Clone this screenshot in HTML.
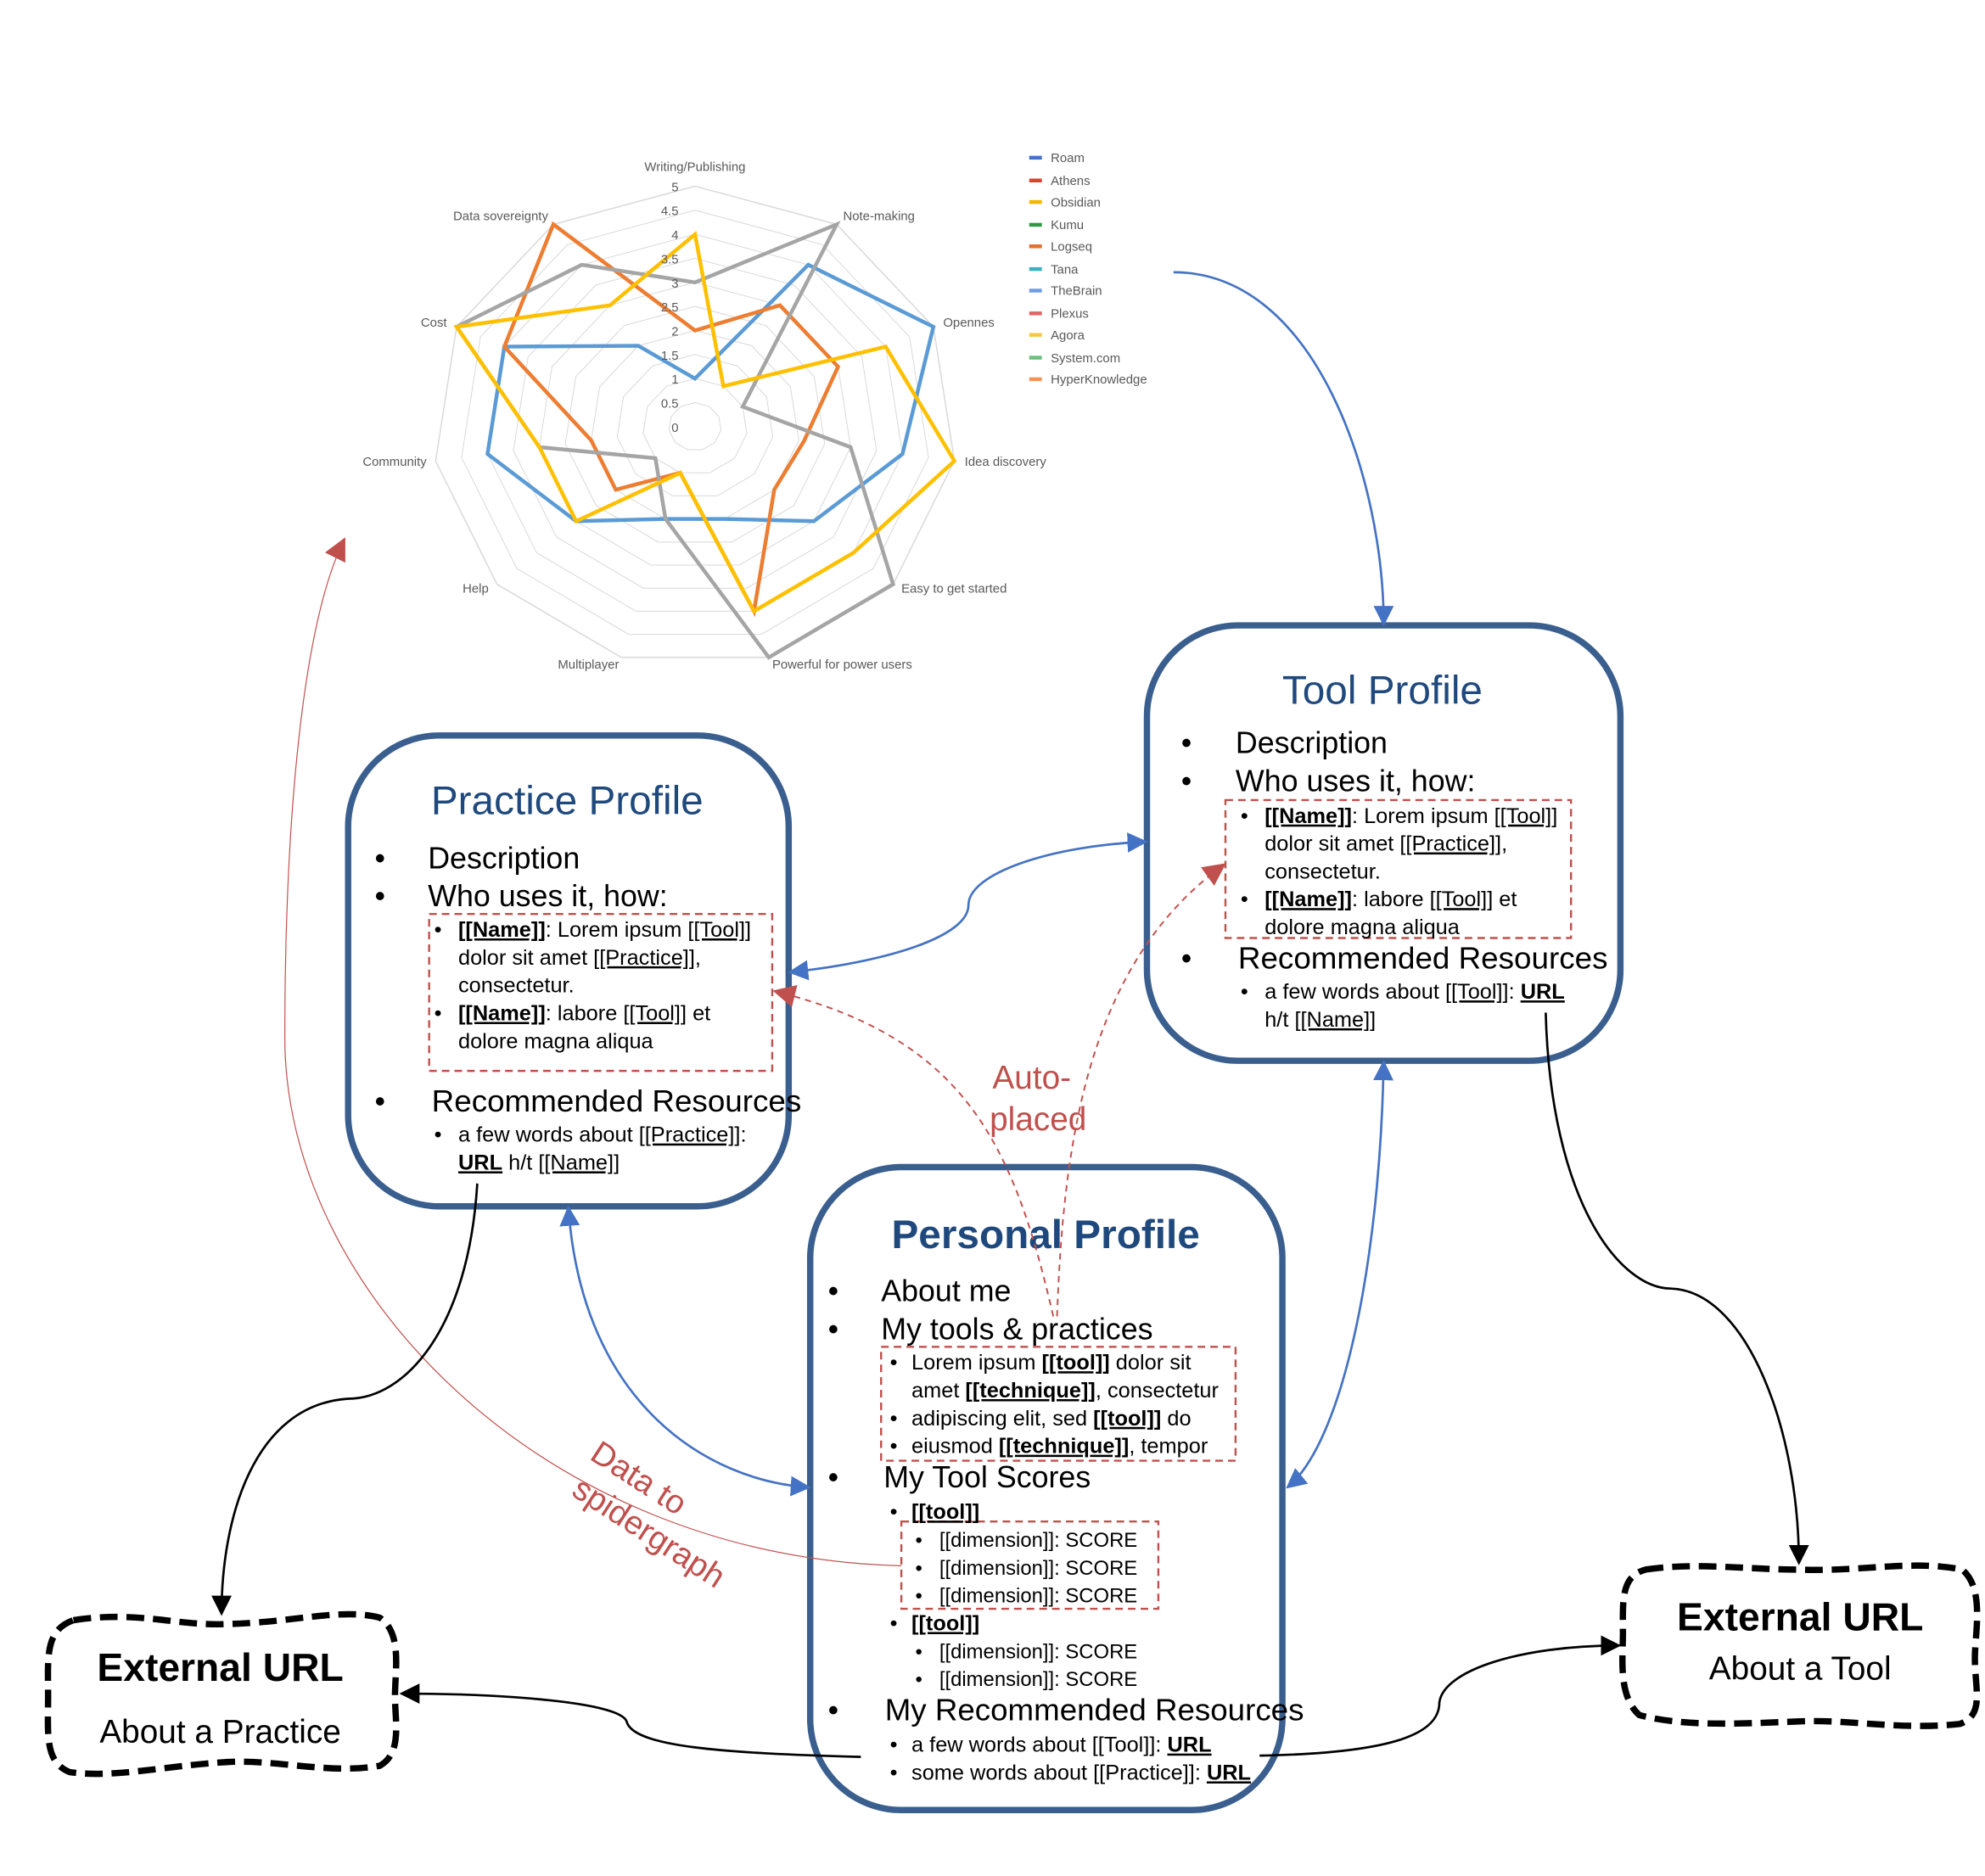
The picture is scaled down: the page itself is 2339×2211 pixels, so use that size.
<!DOCTYPE html>
<html><head><meta charset="utf-8"><style>
html,body{margin:0;padding:0;background:#fff}
svg{display:block}
text{font-family:"Liberation Sans",sans-serif}
.h{font-size:24px;fill:#000}
.s{font-size:17px;fill:#000}
.d{font-size:16px;fill:#000}
.u{text-decoration:underline}
.b{font-weight:bold}
.t{fill:#1f497d;font-size:32px}
.ax{font-size:10px;fill:#595959}
.lg{font-size:10px;fill:#595959}
</style></head><body>
<svg width="2339" height="2211" viewBox="0 0 1568 1482" xmlns="http://www.w3.org/2000/svg">
<defs>
<marker id="abb" viewBox="0 0 10 10" refX="9" refY="5" markerWidth="16" markerHeight="16" orient="auto-start-reverse" markerUnits="userSpaceOnUse"><path d="M0,0L10,5L0,10z" fill="#4472c4"/></marker>
<marker id="ar" viewBox="0 0 10 10" refX="9" refY="5" markerWidth="18" markerHeight="18" orient="auto" markerUnits="userSpaceOnUse"><path d="M0,0L10,5L0,10z" fill="#c0504d"/></marker>
<marker id="ak" viewBox="0 0 10 10" refX="9" refY="5" markerWidth="16" markerHeight="16" orient="auto" markerUnits="userSpaceOnUse"><path d="M0,0L10,5L0,10z" fill="#000"/></marker>
</defs>

<g fill="none" stroke="#d9d9d9" stroke-width="1">
<polygon points="549,147 660.9,177.2 737.3,258.1 753.9,364.1 705.5,461.5 607.3,519.3 490.7,519.3 392.6,461.5 344.1,364.1 360.7,258.1 437.1,177.2"/>
<polygon points="549,147 660.9,177.2 737.3,258.1 753.9,364.1 705.5,461.5 607.3,519.3 490.7,519.3 392.6,461.5 344.1,364.1 360.7,258.1 437.1,177.2" transform="translate(549 337) scale(0.9) translate(-549 -337)" vector-effect="non-scaling-stroke"/>
<polygon points="549,147 660.9,177.2 737.3,258.1 753.9,364.1 705.5,461.5 607.3,519.3 490.7,519.3 392.6,461.5 344.1,364.1 360.7,258.1 437.1,177.2" transform="translate(549 337) scale(0.8) translate(-549 -337)" vector-effect="non-scaling-stroke"/>
<polygon points="549,147 660.9,177.2 737.3,258.1 753.9,364.1 705.5,461.5 607.3,519.3 490.7,519.3 392.6,461.5 344.1,364.1 360.7,258.1 437.1,177.2" transform="translate(549 337) scale(0.7) translate(-549 -337)" vector-effect="non-scaling-stroke"/>
<polygon points="549,147 660.9,177.2 737.3,258.1 753.9,364.1 705.5,461.5 607.3,519.3 490.7,519.3 392.6,461.5 344.1,364.1 360.7,258.1 437.1,177.2" transform="translate(549 337) scale(0.6) translate(-549 -337)" vector-effect="non-scaling-stroke"/>
<polygon points="549,147 660.9,177.2 737.3,258.1 753.9,364.1 705.5,461.5 607.3,519.3 490.7,519.3 392.6,461.5 344.1,364.1 360.7,258.1 437.1,177.2" transform="translate(549 337) scale(0.5) translate(-549 -337)" vector-effect="non-scaling-stroke"/>
<polygon points="549,147 660.9,177.2 737.3,258.1 753.9,364.1 705.5,461.5 607.3,519.3 490.7,519.3 392.6,461.5 344.1,364.1 360.7,258.1 437.1,177.2" transform="translate(549 337) scale(0.4) translate(-549 -337)" vector-effect="non-scaling-stroke"/>
<polygon points="549,147 660.9,177.2 737.3,258.1 753.9,364.1 705.5,461.5 607.3,519.3 490.7,519.3 392.6,461.5 344.1,364.1 360.7,258.1 437.1,177.2" transform="translate(549 337) scale(0.3) translate(-549 -337)" vector-effect="non-scaling-stroke"/>
<polygon points="549,147 660.9,177.2 737.3,258.1 753.9,364.1 705.5,461.5 607.3,519.3 490.7,519.3 392.6,461.5 344.1,364.1 360.7,258.1 437.1,177.2" transform="translate(549 337) scale(0.2) translate(-549 -337)" vector-effect="non-scaling-stroke"/>
<polygon points="549,147 660.9,177.2 737.3,258.1 753.9,364.1 705.5,461.5 607.3,519.3 490.7,519.3 392.6,461.5 344.1,364.1 360.7,258.1 437.1,177.2" transform="translate(549 337) scale(0.1) translate(-549 -337)" vector-effect="non-scaling-stroke"/>
</g>
<g fill="none" stroke-width="3">
<polygon stroke="#5b9bd5" points="549,299 638.5,209.1 737.3,258.1 712.9,358.6 642.9,411.7 572.3,409.9 525.7,409.9 455.1,411.7 385.1,358.6 398.4,273.8 504.2,273.1"/>
<polygon stroke="#ed7d31" points="549,261 616.1,241.1 662,289.6 635.1,348.4 611.6,386.8 595.6,482.8 537.3,373.5 486.4,386.8 467,347.8 398.4,273.8 437.1,177.2"/>
<polygon stroke="#a5a5a5" points="549,223 660.9,177.2 586.7,321.2 671.9,353.2 705.5,461.5 607.3,519.3 525.7,409.9 517.7,361.9 426.1,353.2 360.7,258.1 459.5,209.1"/>
<polygon stroke="#ffc000" points="549,185 571.4,305 699.6,273.8 753.9,364.1 674.2,436.6 595.6,482.8 537.3,373.5 455.1,411.7 426.1,353.2 360.7,258.1 481.9,241.1"/>
</g>
<g class="ax" text-anchor="end">
<text x="536" y="151">5</text><text x="536" y="170">4.5</text><text x="536" y="189">4</text><text x="536" y="208">3.5</text><text x="536" y="227">3</text><text x="536" y="246">2.5</text><text x="536" y="265">2</text><text x="536" y="284">1.5</text><text x="536" y="303">1</text><text x="536" y="322">0.5</text><text x="536" y="341">0</text>
</g>
<g class="ax">
<text x="549" y="135" text-anchor="middle">Writing/Publishing</text>
<text x="666" y="174">Note-making</text>
<text x="745" y="258">Opennes</text>
<text x="762" y="368">Idea discovery</text>
<text x="712" y="468">Easy to get started</text>
<text x="610" y="528">Powerful for power users</text>
<text x="489" y="528" text-anchor="end">Multiplayer</text>
<text x="386" y="468" text-anchor="end">Help</text>
<text x="337" y="368" text-anchor="end">Community</text>
<text x="353" y="258" text-anchor="end">Cost</text>
<text x="433" y="174" text-anchor="end">Data sovereignty</text>
</g>
<g class="lg">
<rect x="813" y="123" width="10" height="3" fill="#4472c4"/><text x="830" y="128">Roam</text>
<rect x="813" y="141" width="10" height="3" fill="#d9412f"/><text x="830" y="146">Athens</text>
<rect x="813" y="158" width="10" height="3" fill="#f2b800"/><text x="830" y="163">Obsidian</text>
<rect x="813" y="176" width="10" height="3" fill="#2e9a44"/><text x="830" y="181">Kumu</text>
<rect x="813" y="193" width="10" height="3" fill="#e4702b"/><text x="830" y="198">Logseq</text>
<rect x="813" y="211" width="10" height="3" fill="#3fb0c0"/><text x="830" y="216">Tana</text>
<rect x="813" y="228" width="10" height="3" fill="#6f9ce8"/><text x="830" y="233">TheBrain</text>
<rect x="813" y="246" width="10" height="3" fill="#e06666"/><text x="830" y="251">Plexus</text>
<rect x="813" y="263" width="10" height="3" fill="#f5c842"/><text x="830" y="268">Agora</text>
<rect x="813" y="281" width="10" height="3" fill="#6cc080"/><text x="830" y="286">System.com</text>
<rect x="813" y="298" width="10" height="3" fill="#f0955a"/><text x="830" y="303">HyperKnowledge</text>
</g>

<g fill="none" stroke="#3a5f8f" stroke-width="5">
<rect x="906" y="494" width="374" height="344" rx="72"/>
<rect x="275" y="581" width="348" height="372" rx="72"/>
<rect x="640" y="922" width="373" height="508" rx="72"/>
</g>
<g fill="none" stroke="#c0504d" stroke-width="1.6" stroke-dasharray="6,4">
<rect x="968" y="632" width="273" height="109"/>
<rect x="339" y="722" width="271" height="124"/>
<rect x="696" y="1064" width="280" height="90"/>
<rect x="712" y="1202" width="203" height="69"/>
</g>

<text x="1092" y="556" class="t" text-anchor="middle">Tool Profile</text>
<g class="h"><text x="933" y="595">•</text><text x="976" y="595">Description</text>
<text x="933" y="625">•</text><text x="976" y="625">Who uses it, how:</text>
<text x="933" y="765">•</text><text x="978" y="765" textLength="292" lengthAdjust="spacingAndGlyphs">Recommended Resources</text></g>
<g class="s">
<text x="980" y="650">•</text><text x="999" y="650"><tspan class="b u">[[Name]]</tspan>: Lorem ipsum <tspan class="u">[[Tool]]</tspan></text>
<text x="999" y="672">dolor sit amet <tspan class="u">[[Practice]]</tspan>,</text>
<text x="999" y="694">consectetur.</text>
<text x="980" y="716">•</text><text x="999" y="716"><tspan class="b u">[[Name]]</tspan>: labore <tspan class="u">[[Tool]]</tspan> et</text>
<text x="999" y="738">dolore magna aliqua</text>
<text x="980" y="789">•</text><text x="999" y="789">a few words about <tspan class="u">[[Tool]]</tspan>: <tspan class="b u">URL </tspan></text>
<text x="999" y="811">h/t <tspan class="u">[[Name]]</tspan></text>
</g>

<text x="448" y="643" class="t" text-anchor="middle">Practice Profile</text>
<g class="h"><text x="296" y="686">•</text><text x="338" y="686">Description</text>
<text x="296" y="716">•</text><text x="338" y="716">Who uses it, how:</text>
<text x="296" y="878">•</text><text x="341" y="878" textLength="292" lengthAdjust="spacingAndGlyphs">Recommended Resources</text></g>
<g class="s">
<text x="343" y="740">•</text><text x="362" y="740"><tspan class="b u">[[Name]]</tspan>: Lorem ipsum <tspan class="u">[[Tool]]</tspan></text>
<text x="362" y="762">dolor sit amet <tspan class="u">[[Practice]]</tspan>,</text>
<text x="362" y="784">consectetur.</text>
<text x="343" y="806">•</text><text x="362" y="806"><tspan class="b u">[[Name]]</tspan>: labore <tspan class="u">[[Tool]]</tspan> et</text>
<text x="362" y="828">dolore magna aliqua</text>
<text x="343" y="902">•</text><text x="362" y="902">a few words about <tspan class="u">[[Practice]]</tspan>:</text>
<text x="362" y="924"><tspan class="b u">URL</tspan>  h/t <tspan class="u">[[Name]]</tspan></text>
</g>

<text x="826" y="986" class="t b" text-anchor="middle">Personal Profile</text>
<g class="h"><text x="654" y="1028">•</text><text x="696" y="1028">About me</text>
<text x="654" y="1058">•</text><text x="696" y="1058">My tools &amp; practices</text>
<text x="654" y="1175">•</text><text x="698" y="1175">My Tool Scores</text>
<text x="654" y="1359">•</text><text x="699" y="1359" textLength="331" lengthAdjust="spacingAndGlyphs">My Recommended Resources</text></g>
<g class="s">
<text x="703" y="1082">•</text><text x="720" y="1082">Lorem ipsum <tspan class="b u">[[tool]]</tspan> dolor sit</text>
<text x="720" y="1104">amet <tspan class="b u">[[technique]]</tspan>, consectetur</text>
<text x="703" y="1126">•</text><text x="720" y="1126">adipiscing elit, sed <tspan class="b u">[[tool]]</tspan> do</text>
<text x="703" y="1148">•</text><text x="720" y="1148">eiusmod <tspan class="b u">[[technique]]</tspan>, tempor</text>
<text x="703" y="1200">•</text><text x="720" y="1200" class="b u">[[tool]]</text>
<text x="703" y="1288">•</text><text x="720" y="1288" class="b u">[[tool]]</text>
<text x="703" y="1384">•</text><text x="720" y="1384">a few words about [[Tool]]: <tspan class="b u">URL</tspan></text>
<text x="703" y="1406">•</text><text x="720" y="1406">some words about [[Practice]]: <tspan class="b u">URL</tspan></text>
</g>
<g class="d">
<text x="723" y="1222">•</text><text x="742" y="1222">[[dimension]]: SCORE</text>
<text x="723" y="1244">•</text><text x="742" y="1244">[[dimension]]: SCORE</text>
<text x="723" y="1266">•</text><text x="742" y="1266">[[dimension]]: SCORE</text>
<text x="723" y="1310">•</text><text x="742" y="1310">[[dimension]]: SCORE</text>
<text x="723" y="1332">•</text><text x="742" y="1332">[[dimension]]: SCORE</text>
</g>

<g fill="none" stroke="#000" stroke-width="5" stroke-dasharray="14,7">
<path d="M58,1280 C110,1272 140,1285 180,1283 C230,1282 270,1270 300,1278 C318,1290 312,1320 312,1340 C312,1360 318,1385 300,1395 C260,1402 220,1390 180,1392 C130,1395 90,1405 55,1400 C35,1392 38,1370 38,1340 C38,1310 35,1288 58,1280 Z"/>
<path d="M1300,1240 C1340,1234 1380,1240 1420,1240 C1470,1242 1510,1232 1550,1240 C1568,1255 1560,1290 1560,1310 C1560,1335 1568,1355 1548,1362 C1500,1367 1460,1358 1420,1360 C1370,1362 1330,1364 1295,1355 C1278,1340 1282,1310 1282,1290 C1282,1265 1280,1245 1300,1240 Z"/>
</g>
<text x="174" y="1328" text-anchor="middle" style="font-size:31px;font-weight:bold">External URL</text>
<text x="174" y="1377" text-anchor="middle" style="font-size:26px">About a Practice</text>
<text x="1422" y="1288" text-anchor="middle" style="font-size:31px;font-weight:bold">External URL</text>
<text x="1422" y="1327" text-anchor="middle" style="font-size:26px">About a Tool</text>

<g fill="none" stroke="#4472c4" stroke-width="1.8">
<path d="M927,215 C1040,215 1093,380 1093,493" marker-end="url(#abb)"/>
<path d="M624,768 C700,760 765,740 765,715 C765,690 830,668 905,665" marker-start="url(#abb)" marker-end="url(#abb)"/>
<path d="M639,1175 C560,1170 460,1110 449,954" marker-start="url(#abb)" marker-end="url(#abb)"/>
<path d="M1017,1175 C1060,1140 1090,1000 1093,839" marker-start="url(#abb)" marker-end="url(#abb)"/>
</g>
<g fill="none" stroke="#c0504d" stroke-width="1.3">
<path d="M835,1040 C840,900 860,760 967,683" stroke-dasharray="5,4" marker-end="url(#ar)"/>
<path d="M832,1040 C800,900 760,820 612,783" stroke-dasharray="5,4" marker-end="url(#ar)"/>
<path d="M712,1237 C430,1230 225,1020 225,820 C225,640 240,490 272,426" stroke-width="0.8" marker-end="url(#ar)"/>
</g>
<g fill="none" stroke="#000" stroke-width="1.8">
<path d="M377,935 C370,1050 320,1105 275,1105 C200,1110 175,1200 175,1275" marker-end="url(#ak)"/>
<path d="M1221,800 C1225,950 1280,1018 1320,1018 C1380,1020 1421,1130 1421,1235" marker-end="url(#ak)"/>
<path d="M680,1388 C570,1385 500,1380 495,1360 C490,1345 400,1338 317,1338" marker-end="url(#ak)"/>
<path d="M995,1387 C1100,1385 1137,1370 1137,1345 C1140,1320 1200,1300 1279,1300" marker-end="url(#ak)"/>
</g>

<text x="815" y="860" text-anchor="middle" style="font-size:26px;fill:#c0504d">Auto-</text>
<text x="820" y="893" text-anchor="middle" style="font-size:26px;fill:#c0504d">placed</text>
<text x="500" y="1175" text-anchor="middle" transform="rotate(33 500 1175)" style="font-size:26px;fill:#c0504d">Data to</text>
<text x="508" y="1218" text-anchor="middle" transform="rotate(33 508 1218)" style="font-size:26px;fill:#c0504d">spidergraph</text>
</svg>
</body></html>
